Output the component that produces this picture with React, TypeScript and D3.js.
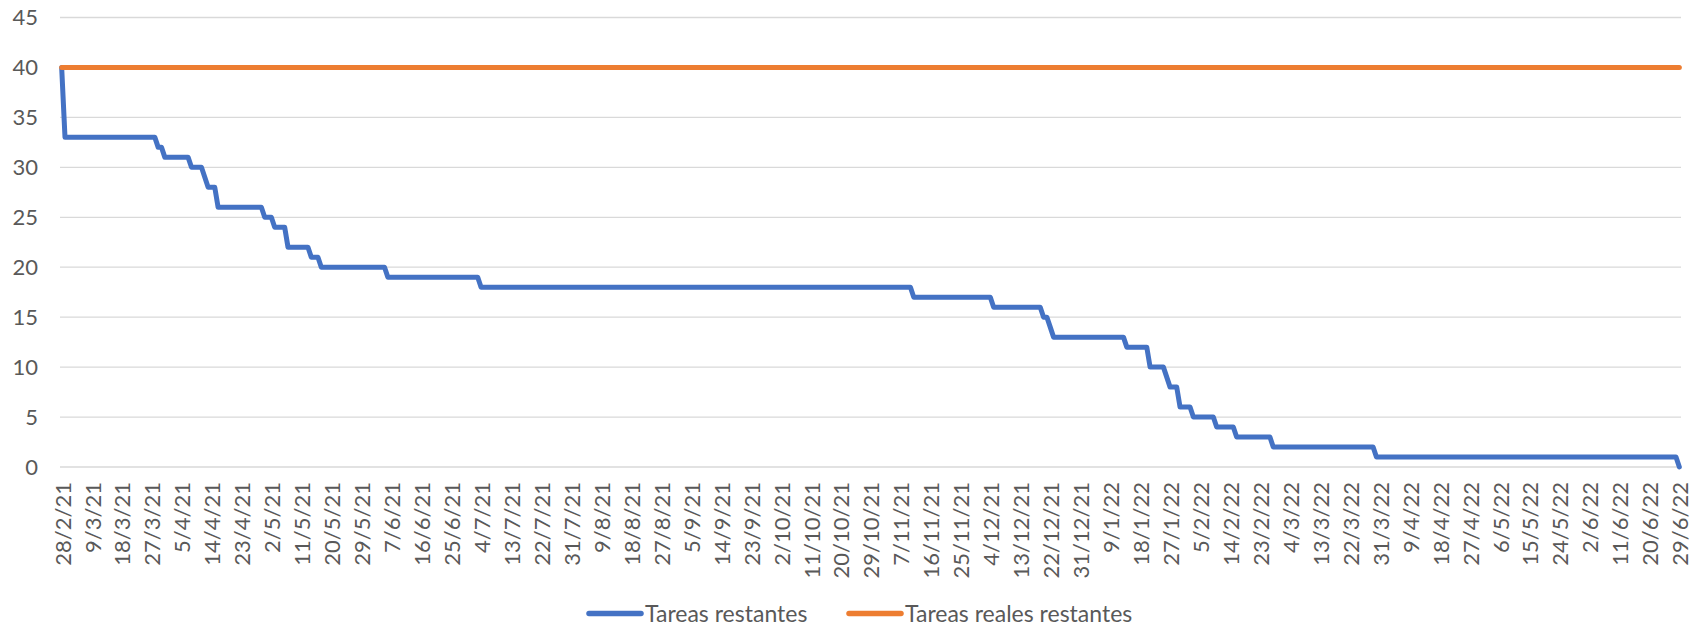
import React from "react";
import * as d3 from "d3";

// Blue series: dates where the step line changes (value held between them)
const remainingDates = [
  "28/2/21", "1/3/21", "28/3/21", "29/3/21", "30/3/21", "31/3/21", "7/4/21", "8/4/21",
  "11/4/21", "12/4/21", "13/4/21", "15/4/21", "16/4/21", "29/4/21", "30/4/21", "2/5/21",
  "3/5/21", "6/5/21", "7/5/21", "13/5/21", "14/5/21", "16/5/21", "17/5/21", "5/6/21",
  "6/6/21", "3/7/21", "4/7/21", "10/11/21", "11/11/21", "4/12/21", "5/12/21", "19/12/21",
  "20/12/21", "21/12/21", "22/12/21", "23/12/21", "13/1/22", "14/1/22", "20/1/22", "21/1/22",
  "25/1/22", "26/1/22", "27/1/22", "29/1/22", "30/1/22", "2/2/22", "3/2/22", "9/2/22",
  "10/2/22", "15/2/22", "16/2/22", "26/2/22", "27/2/22", "29/3/22", "30/3/22", "28/6/22",
  "29/6/22",
];
const remainingValues = [
  40, 33, 33, 32, 32, 31, 31, 30,
  30, 29, 28, 28, 26, 26, 25, 25,
  24, 24, 22, 22, 21, 21, 20, 20,
  19, 19, 18, 18, 17, 17, 16, 16,
  15, 15, 14, 13, 13, 12, 12, 10,
  10, 9, 8, 8, 6, 6, 5, 5,
  4, 4, 3, 3, 2, 2, 1, 1,
  0,
];

// Orange series: constant
const realDates = ["28/2/21", "29/6/22"];
const realValues = [40, 40];

const tickLabels = [
  "28/2/21", "9/3/21", "18/3/21", "27/3/21", "5/4/21", "14/4/21", "23/4/21", "2/5/21",
  "11/5/21", "20/5/21", "29/5/21", "7/6/21", "16/6/21", "25/6/21", "4/7/21", "13/7/21",
  "22/7/21", "31/7/21", "9/8/21", "18/8/21", "27/8/21", "5/9/21", "14/9/21", "23/9/21",
  "2/10/21", "11/10/21", "20/10/21", "29/10/21", "7/11/21", "16/11/21", "25/11/21", "4/12/21",
  "13/12/21", "22/12/21", "31/12/21", "9/1/22", "18/1/22", "27/1/22", "5/2/22", "14/2/22",
  "23/2/22", "4/3/22", "13/3/22", "22/3/22", "31/3/22", "9/4/22", "18/4/22", "27/4/22",
  "6/5/22", "15/5/22", "24/5/22", "2/6/22", "11/6/22", "20/6/22", "29/6/22",
];
const yTicks = [0, 5, 10, 15, 20, 25, 30, 35, 40, 45];

const seriesNames = ["Tareas restantes", "Tareas reales restantes"];
const seriesColors = ["#4472C4", "#ED7D31"];

function parse(s: string): Date {
  const [d, m, y] = s.split("/").map(Number);
  return new Date(Date.UTC(2000 + y, m - 1, d));
}

const W = 1695;
const H = 627;
const left = 60;
const right = 1681;
const yTop = 17.5;
const yBottom = 467;
const FONT = "Lato, 'Open Sans', sans-serif";
const TEXT = "#595959";
const FS = 22;
const FS_LEGEND = 23;

export default function App() {
  const half = 12 * 3600 * 1000;
  const start = parse(tickLabels[0]);
  const end = parse(tickLabels[tickLabels.length - 1]);
  const x = d3
    .scaleUtc()
    .domain([new Date(start.getTime() - half), new Date(end.getTime() + half)])
    .range([left, right]);
  const y = d3.scaleLinear().domain([0, 45]).range([yBottom, yTop]);

  const line = d3
    .line<[Date, number]>()
    .x((d) => x(d[0]))
    .y((d) => y(d[1]));

  const blue = line(remainingDates.map((d, i) => [parse(d), remainingValues[i]]));
  const orange = line(realDates.map((d, i) => [parse(d), realValues[i]]));

  return (
    <svg
      width={W}
      height={H}
      style={{ position: "absolute", left: 0, top: 0, background: "#fff" }}
      fontFamily={FONT}
    >
      {yTicks.map((t) => (
        <g key={t}>
          <line x1={left} x2={right} y1={y(t)} y2={y(t)} stroke="#D9D9D9" strokeWidth={1.3} />
          <text x={38} y={y(t)} dy="0.36em" textAnchor="end" fontSize={FS} fill={TEXT}>
            {t}
          </text>
        </g>
      ))}
      {tickLabels.map((l) => (
        <text
          key={l}
          transform={`translate(${x(parse(l)) + 1},${482}) rotate(-90)`}
          textAnchor="end"
          dy="0.36em"
          fontSize={FS}
          fill={TEXT}
        >
          {l}
        </text>
      ))}
      <path
        d={blue || ""}
        fill="none"
        stroke={seriesColors[0]}
        strokeWidth={5}
        strokeLinejoin="round"
        strokeLinecap="round"
      />
      <path
        d={orange || ""}
        fill="none"
        stroke={seriesColors[1]}
        strokeWidth={5}
        strokeLinejoin="round"
        strokeLinecap="round"
      />
      {/* legend */}
      <g>
        <line x1={589} x2={641} y1={613.5} y2={613.5} stroke={seriesColors[0]} strokeWidth={5.5} strokeLinecap="round" />
        <text x={645} y={613.5} dy="0.36em" fontSize={FS_LEGEND} fill={TEXT}>
          {seriesNames[0]}
        </text>
        <line x1={849} x2={901} y1={613.5} y2={613.5} stroke={seriesColors[1]} strokeWidth={5.5} strokeLinecap="round" />
        <text x={905} y={613.5} dy="0.36em" fontSize={FS_LEGEND} fill={TEXT}>
          {seriesNames[1]}
        </text>
      </g>
    </svg>
  );
}
